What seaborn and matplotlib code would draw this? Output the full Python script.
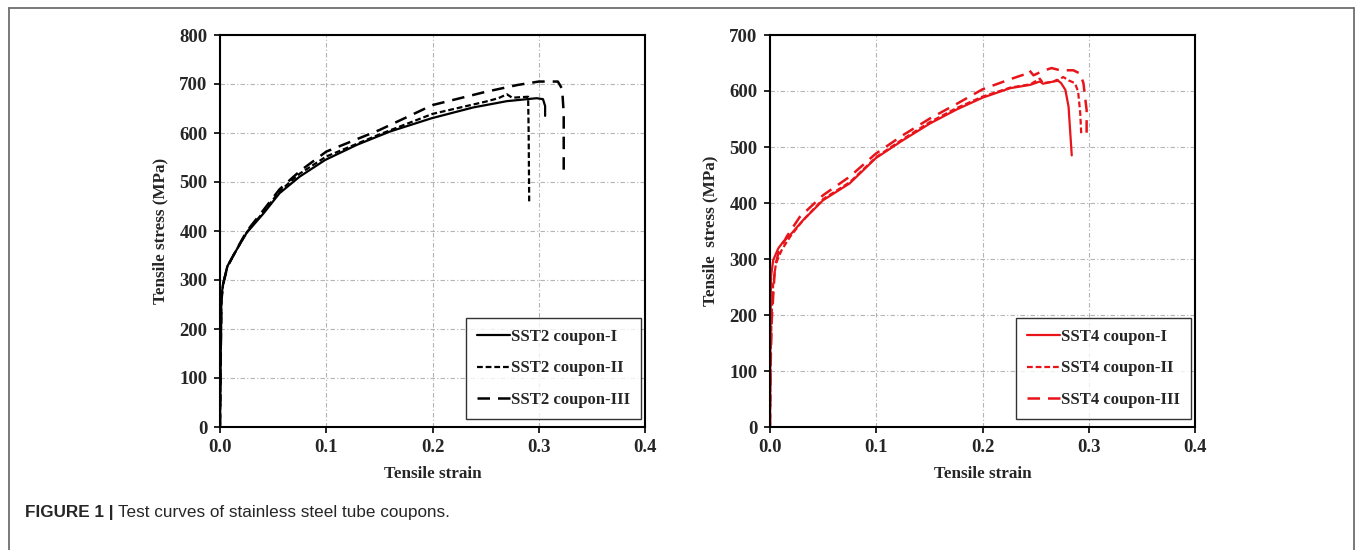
import matplotlib
matplotlib.use("Agg")
import matplotlib.pyplot as plt
from matplotlib.lines import Line2D
import pandas as pd
import seaborn as sns

# ---- SST2 coupons (strain, stress in MPa) ----
sst2_I_strain = [0.0, 0.0006, 0.0013, 0.003, 0.0069, 0.0157, 0.025, 0.041, 0.056, 0.075,
                 0.099, 0.129, 0.16, 0.199, 0.238, 0.27, 0.298, 0.304, 0.306, 0.306]
sst2_I_stress = [0, 130, 266, 294, 328, 362, 396, 436, 477, 511,
                 545, 576, 603, 630, 652, 665, 671, 669, 655, 635]

sst2_II_strain = [0.0, 0.0006, 0.0013, 0.003, 0.0069, 0.0157, 0.025, 0.041, 0.056, 0.075,
                  0.1, 0.15, 0.2, 0.25, 0.262, 0.27, 0.275, 0.29, 0.2905, 0.291]
sst2_II_stress = [0, 125, 262, 292, 327, 362, 397, 439, 481, 517,
                  552, 597, 639, 664, 671, 679, 672, 674, 600, 460]

sst2_III_strain = [0.0, 0.0006, 0.0013, 0.003, 0.0069, 0.0157, 0.025, 0.041, 0.056, 0.075,
                   0.1, 0.15, 0.2, 0.25, 0.28, 0.3, 0.318, 0.322, 0.3235, 0.3235]
sst2_III_stress = [0, 120, 258, 291, 327, 363, 399, 443, 485, 522,
                   562, 606, 657, 684, 698, 705, 705, 690, 640, 524]

# ---- SST4 coupons ----
sst4_I_strain = [0.0, 0.0004, 0.0009, 0.003, 0.0078, 0.0125, 0.019, 0.031, 0.05, 0.075,
                 0.0995, 0.125, 0.1506, 0.1757, 0.2, 0.226, 0.245, 0.254, 0.257, 0.267,
                 0.27, 0.274, 0.278, 0.281, 0.284]
sst4_I_stress = [0, 150, 268, 298, 319, 331, 343, 369, 405, 435,
                 480, 512, 542, 567, 588, 605, 611, 617, 613, 617,
                 620, 614, 602, 572, 485]

sst4_II_strain = [0.0, 0.0006, 0.0016, 0.003, 0.0056, 0.011, 0.019, 0.031, 0.05, 0.075,
                  0.1, 0.125, 0.15, 0.175, 0.2, 0.226, 0.245, 0.254, 0.257, 0.27,
                  0.276, 0.281, 0.287, 0.29, 0.292, 0.293]
sst4_II_stress = [0, 131, 202, 256, 292, 316, 340, 369, 407, 437,
                  482, 514, 544, 569, 590, 606, 612, 622, 614, 618,
                  625, 619, 614, 599, 560, 521]

sst4_III_strain = [0.0, 0.0006, 0.0016, 0.0047, 0.0078, 0.0157, 0.028, 0.05, 0.075, 0.0995,
                   0.125, 0.1506, 0.1757, 0.2, 0.226, 0.2416, 0.244, 0.248, 0.257, 0.265,
                   0.273, 0.2855, 0.292, 0.295, 0.298, 0.298]
sst4_III_stress = [0, 110, 190, 286, 310, 340, 375, 414, 447, 488,
                   521, 551, 577, 603, 621, 631, 637, 628, 636, 641,
                   637, 637, 631, 614, 566, 518]

x_ticks = [0.0, 0.1, 0.2, 0.3, 0.4]
x_tick_labels = ["0.0", "0.1", "0.2", "0.3", "0.4"]
y_ticks_left = [0, 100, 200, 300, 400, 500, 600, 700, 800]
y_ticks_right = [0, 100, 200, 300, 400, 500, 600, 700]

labels_left = ["SST2 coupon-I", "SST2 coupon-II", "SST2 coupon-III"]
labels_right = ["SST4 coupon-I", "SST4 coupon-II", "SST4 coupon-III"]

sns.set_style("white")
plt.rcParams["font.family"] = ["Liberation Serif", "DejaVu Serif"]
plt.rcParams["font.weight"] = "bold"

W, H = 1355, 550
fig = plt.figure(figsize=(W / 100, H / 100), dpi=100)
fig.patch.set_facecolor("white")

ax_l = fig.add_axes([220 / W, (H - 427) / H, 425 / W, 392 / H])
ax_r = fig.add_axes([770 / W, (H - 427) / H, 425 / W, 392 / H])

styles = [
    dict(linestyle="-", lw=1.6),
    dict(linestyle=(0, (2.6, 1.3)), lw=1.6),
    dict(linestyle=(0, (5.0, 3.2)), lw=1.8),
]


def draw_panel(ax, series, labels, color, yticks, ylabel):
    for (xs, ys), lab, st in zip(series, labels, styles):
        df = pd.DataFrame({"strain": xs, "stress": ys})
        sns.lineplot(data=df, x="strain", y="stress", ax=ax, sort=False,
                     estimator=None, color=color, label=lab, **st)
    ax.set_xlim(0, 0.4)
    ax.set_ylim(yticks[0], yticks[-1])
    ax.set_xticks(x_ticks)
    ax.set_xticklabels(x_tick_labels)
    ax.set_yticks(yticks)
    ax.set_yticklabels([str(v) for v in yticks])
    ax.grid(True, color="#b4b4b4", linestyle=(0, (4, 2, 1, 2)), lw=0.8)
    ax.set_axisbelow(True)
    for sp in ax.spines.values():
        sp.set_visible(True)
        sp.set_color("black")
        sp.set_linewidth(1.5)
    ax.tick_params(axis="both", which="major", direction="out", length=4, width=1.2,
                   color="black", labelsize=13.5, bottom=True, left=True)
    ax.tick_params(axis="x", pad=5)
    ax.tick_params(axis="y", pad=5)
    for t in ax.get_xticklabels() + ax.get_yticklabels():
        t.set_fontweight("bold")
    ax.set_xlabel("Tensile strain", fontsize=12.3, fontweight="bold", labelpad=7)
    ax.set_ylabel(ylabel, fontsize=12.3, fontweight="bold", labelpad=8)
    leg = ax.legend(loc="lower right", bbox_to_anchor=(0.99, 0.02), frameon=True,
                    fancybox=False, edgecolor="black", fontsize=12,
                    handlelength=2.0, handletextpad=0.05, labelspacing=0.95,
                    borderpad=0.65, borderaxespad=0.0)
    leg.get_frame().set_linewidth(1.0)
    for t in leg.get_texts():
        t.set_fontweight("bold")


draw_panel(ax_l,
           [(sst2_I_strain, sst2_I_stress), (sst2_II_strain, sst2_II_stress),
            (sst2_III_strain, sst2_III_stress)],
           labels_left, "black", y_ticks_left, "Tensile stress (MPa)")
draw_panel(ax_r,
           [(sst4_I_strain, sst4_I_stress), (sst4_II_strain, sst4_II_stress),
            (sst4_III_strain, sst4_III_stress)],
           labels_right, "#e8141a", y_ticks_right, "Tensile  stress (MPa)")

# frame around the figure panel (open at the bottom)
frame_kw = dict(color="#6e6e6e", lw=1.3, transform=fig.transFigure)
fig.add_artist(Line2D([9 / W, 9 / W], [0, 1 - 8 / H], **frame_kw))
fig.add_artist(Line2D([9 / W, 1354 / W], [1 - 8 / H, 1 - 8 / H], **frame_kw))
fig.add_artist(Line2D([1354 / W, 1354 / W], [0, 1 - 8 / H], **frame_kw))

# caption
cap_y = 1 - 512 / H
t1 = fig.text(25 / W, cap_y, "FIGURE 1 |", fontsize=12.3, fontweight="bold",
              family=["Liberation Sans", "DejaVu Sans"], va="center", ha="left")
fig.canvas.draw()
bb = t1.get_window_extent()
fig.text((bb.x1 + 4) / W, cap_y, "Test curves of stainless steel tube coupons.",
         fontsize=12.3, fontweight="normal", family=["Liberation Sans", "DejaVu Sans"],
         va="center", ha="left")

fig.savefig("out.png", dpi=100, facecolor="white")
